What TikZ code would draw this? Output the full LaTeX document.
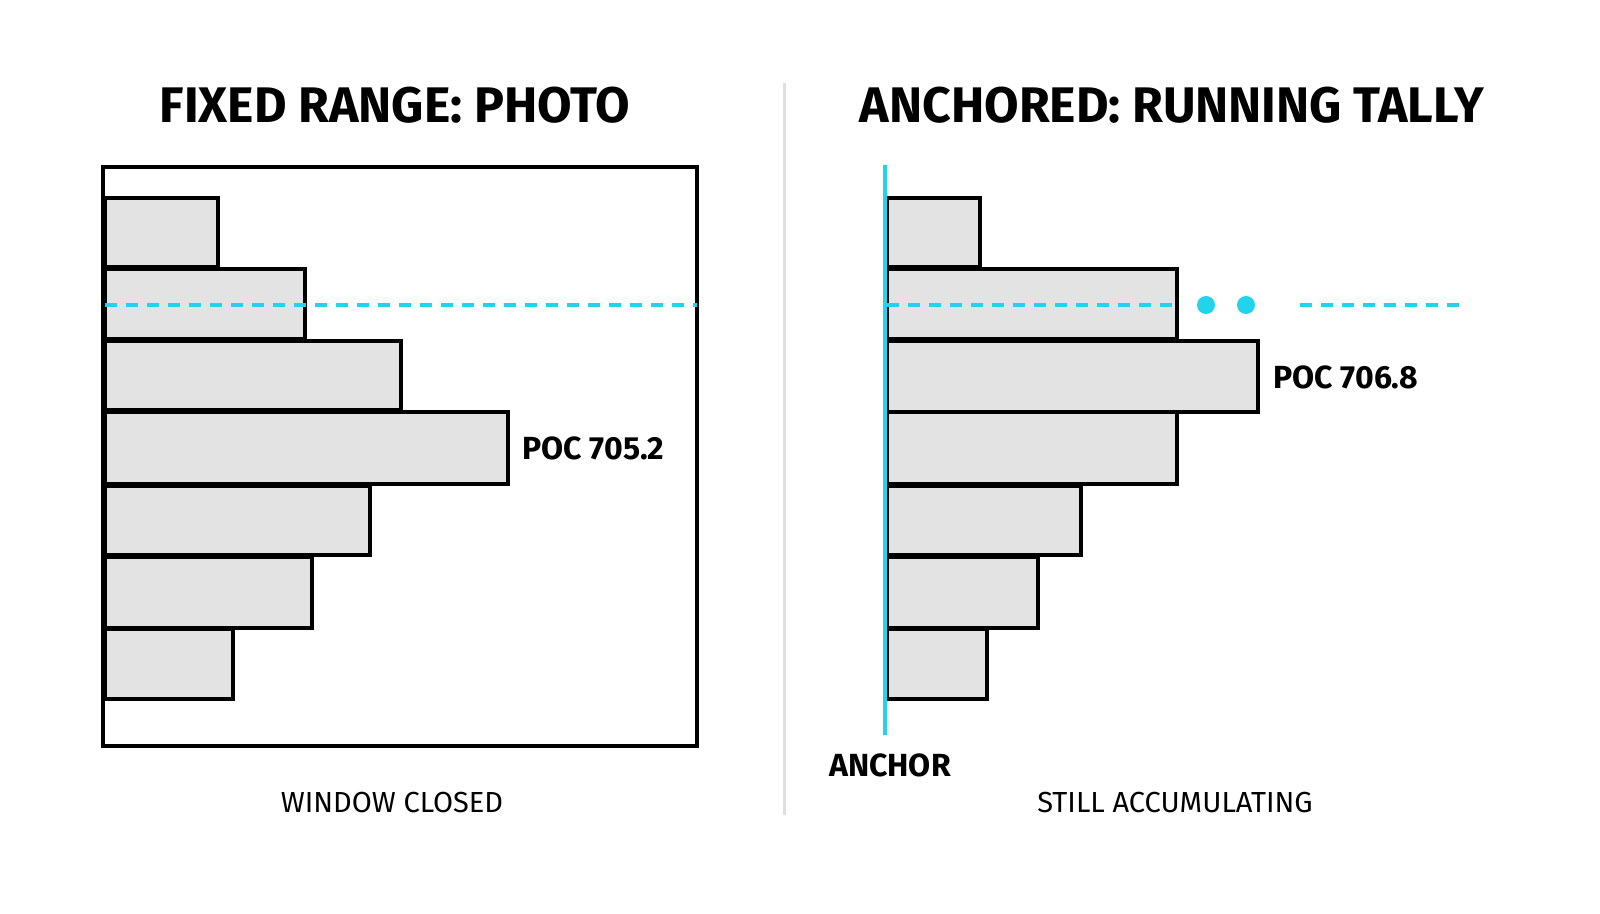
\documentclass[tikz,border=0pt]{standalone}
\usepackage{fontspec}
\setmainfont{Fira Sans}
\definecolor{cyn}{RGB}{34,211,238}
\begin{document}
\begin{tikzpicture}[x=0.5pt,y=-0.5pt,
  bar/.style={draw=black,line width=1.6pt,fill=gray!22},
  frame/.style={draw=black,line width=1.6pt},
  cy/.style={draw=cyn,line width=1.8pt},
  cydash/.style={cy,dash pattern=on 6pt off 4.5pt},
  title/.style={font=\fontsize{25}{28}\selectfont\bfseries, inner sep=0},
  lab/.style={font=\fontsize{16}{19}\selectfont\bfseries, inner sep=0},
  captxt/.style={font=\fontsize{14.5}{17}\selectfont, inner sep=0}]
\useasboundingbox (0,0) rectangle (1600,914);
\fill[white] (0,0) rectangle (1600,914);
\draw[gray!25,line width=1.5pt] (784,83) -- (784,815);
\node[title] (t1) at (395,105) {FIXED RANGE: PHOTO};
\node[title] (t2) at (1172,105) {ANCHORED: RUNNING TALLY};
% left
\draw[frame] (103,167) rectangle (697,746);
\foreach \a/\b/\w in {198/267/218,269/339/305,341/410/401,412/484/508,486/555/370,557/628/312,629/699/233}
  \draw[bar] (105,\a) rectangle (\w,\b);
\draw[cydash] (105,305) -- (697,305);
\node[lab,anchor=west] (p1) at (522,448) {POC 705.2};
\node[captxt] (c1) at (392,803) {WINDOW CLOSED};
% right
\foreach \a/\b/\w in {198/267/980,269/339/1177,341/412/1258,412/484/1177,486/555/1081,557/628/1038,629/699/987}
  \draw[bar] (887,\a) rectangle (\w,\b);
\draw[cy,line width=2.2pt] (885,165) -- (885,735);
\draw[cydash] (887,305) -- (1177,305);
\fill[cyn] (1206,305) circle (4.5pt) (1246,305) circle (4.5pt);
\draw[cydash] (1300,305) -- (1465,305);
\node[lab,anchor=west] (p2) at (1273,377) {POC 706.8};
\node[lab] (an) at (890,765) {ANCHOR};
\node[captxt] (c2) at (1175,803) {STILL ACCUMULATING};
\end{tikzpicture}
\end{document}
